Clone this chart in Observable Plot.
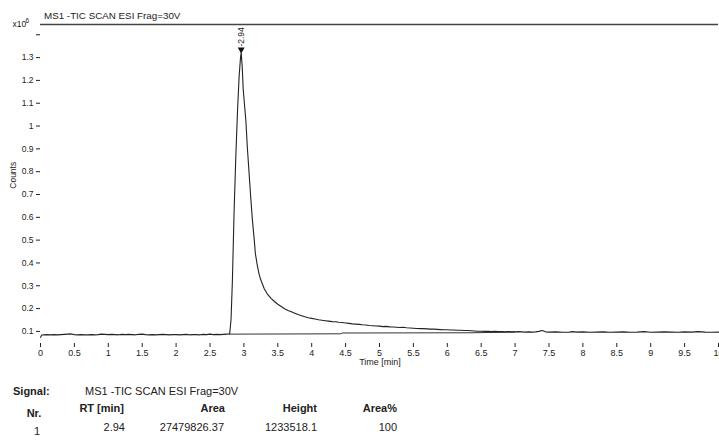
<!DOCTYPE html>
<html>
<head>
<meta charset="utf-8">
<script src="https://cdn.jsdelivr.net/npm/d3@7"></script>
<script src="https://cdn.jsdelivr.net/npm/@observablehq/plot@0.6"></script>
<style>
  body { margin: 0; background: #fff; }
  #wrap { position: relative; width: 719px; height: 441px; overflow: hidden; font-family: "Liberation Sans", Arial, sans-serif; color: #222; }
  .abs { position: absolute; white-space: nowrap; line-height: 12px; }
  .narrow { font-family: "Liberation Sans Narrow", "Liberation Sans", Arial, sans-serif; }
  .b { font-weight: bold; }
</style>
</head>
<body>
<div id="wrap"></div>
<script>
// ---- data (counts in units of 10^6) ----
const signalName = "MS1 -TIC SCAN ESI Frag=30V";
const xLabel = "Time [min]";
const yLabel = "Counts";
const times = [
  0.00,0.02,0.05,0.10,0.15,0.20,0.25,0.30,0.35,0.40,0.45,0.50,0.55,0.60,0.65,0.70,0.75,0.80,0.85,0.90,0.95,
  1.00,1.05,1.10,1.15,1.20,1.25,1.30,1.35,1.40,1.45,1.50,1.55,1.60,1.65,1.70,1.75,1.80,1.85,1.90,1.95,
  2.00,2.05,2.10,2.15,2.20,2.25,2.30,2.35,2.40,2.45,2.50,2.55,2.60,2.65,2.70,2.75,2.79,
  2.81,2.83,2.855,2.88,2.905,2.93,2.95,2.96,2.975,2.99,3.01,3.03,3.05,3.075,3.10,3.125,3.15,3.17,3.20,3.225,3.25,
  3.30,3.35,3.40,3.45,3.50,3.55,3.60,3.65,3.70,3.75,3.80,3.85,3.90,3.95,
  4.00,4.05,4.10,4.15,4.20,4.25,4.30,4.35,4.40,4.45,4.50,4.55,4.60,4.65,4.70,4.75,4.80,4.85,4.90,4.95,
  5.00,5.05,5.10,5.15,5.20,5.25,5.30,5.35,5.40,5.45,5.50,5.55,5.60,5.65,5.70,5.75,5.80,5.85,5.90,5.95,
  6.00,6.05,6.10,6.15,6.20,6.25,6.30,6.35,6.40,6.45,6.50,6.55,6.60,6.65,6.70,6.75,6.80,6.85,6.90,6.95,
  7.00,7.05,7.10,7.15,7.20,7.25,7.30,7.35,7.40,7.45,7.50,7.60,7.70,7.80,7.85,7.90,
  8.00,8.10,8.20,8.30,8.40,8.50,8.60,8.70,8.80,8.90,
  9.00,9.10,9.20,9.30,9.40,9.50,9.60,9.70,9.80,9.90,10.00
];
const counts = [
  0.074,0.084,0.085,0.086,0.085,0.086,0.085,0.086,0.087,0.088,0.089,0.086,0.085,0.086,0.085,0.085,0.086,0.085,0.086,0.088,0.087,
  0.086,0.087,0.086,0.085,0.087,0.086,0.087,0.086,0.085,0.087,0.088,0.086,0.085,0.086,0.085,0.086,0.087,0.086,0.085,0.086,
  0.086,0.085,0.086,0.087,0.085,0.086,0.086,0.085,0.087,0.086,0.088,0.086,0.087,0.086,0.087,0.088,0.089,
  0.15,0.32,0.62,0.86,1.06,1.22,1.30,1.322,1.26,1.16,1.09,1.02,0.91,0.80,0.69,0.59,0.51,0.44,0.385,0.35,0.325,
  0.287,0.262,0.245,0.231,0.219,0.209,0.199,0.192,0.186,0.180,0.174,0.169,0.164,0.160,
  0.157,0.154,0.151,0.149,0.147,0.145,0.143,0.142,0.140,0.139,0.137,0.135,0.133,0.132,0.131,0.129,0.128,0.126,0.125,0.124,
  0.123,0.121,0.122,0.120,0.119,0.118,0.117,0.118,0.116,0.115,0.114,0.113,0.112,0.112,0.111,0.110,0.110,0.109,0.108,0.107,
  0.107,0.106,0.106,0.105,0.105,0.104,0.104,0.103,0.102,0.101,0.101,0.100,0.100,0.099,0.100,0.099,0.099,0.098,0.099,0.098,
  0.098,0.099,0.098,0.097,0.098,0.097,0.098,0.100,0.104,0.098,0.097,0.098,0.096,0.097,0.099,0.097,
  0.098,0.096,0.097,0.098,0.096,0.097,0.098,0.096,0.097,0.099,
  0.096,0.097,0.098,0.097,0.096,0.098,0.097,0.099,0.097,0.096,0.097
];
// integration baseline of the peak
const baseTimes  = [2.79, 4.43, 4.45, 6.35, 7.00];
const baseCounts = [0.088, 0.0895, 0.093, 0.094, 0.097];
// peak annotation
const peakRT = 2.94;
const peakApexTime = 2.96;
const peakApexCount = 1.322;
// axes
const xDomain = [0, 10];
const yDomain = [0.047, 1.445];
const xTicks = [0,0.5,1,1.5,2,2.5,3,3.5,4,4.5,5,5.5,6,6.5,7,7.5,8,8.5,9,9.5,10];
const yTicks = [0.1,0.2,0.3,0.4,0.5,0.6,0.7,0.8,0.9,1,1.1,1.2,1.3];
const yExpTick = [1.4];
// table
const tableHeaders = ["Nr.", "RT [min]", "Area", "Height", "Area%"];
const tableRow = ["1", "2.94", "27479826.37", "1233518.1", "100"];

const trace = times.map((t, i) => ({t, c: counts[i]}));
const base = baseTimes.map((t, i) => ({t, c: baseCounts[i]}));
const peak = [{t: peakApexTime, c: peakApexCount, label: "-" + peakRT.toFixed(2)}];

const narrowFont = "'Liberation Sans Narrow','Liberation Sans',Arial,sans-serif";

const chart = Plot.plot({
  width: 719,
  height: 370,
  marginTop: 24,
  marginBottom: 27,
  marginLeft: 40,
  marginRight: 1,
  x: {domain: xDomain},
  y: {domain: yDomain},
  style: {fontFamily: narrowFont, fontSize: "8.5px", color: "#222", background: "white", overflow: "hidden"},
  marks: [
    Plot.ruleY([yDomain[1]], {stroke: "#444", strokeWidth: 1.6}),
    Plot.axisY({ticks: yTicks, tickFormat: d => String(d), tickSize: 4, tickPadding: 3, label: null, line: true, stroke: "#222"}),
    Plot.axisY({ticks: yExpTick, tickFormat: () => "", tickSize: 4, label: null}),
    Plot.axisX({ticks: xTicks, tickFormat: d => String(d), tickSize: 4, tickPadding: 2, label: null, line: true, fontSize: 9}),
    Plot.line(base, {x: "t", y: "c", stroke: "#333", strokeWidth: 1}),
    Plot.line(trace, {x: "t", y: "c", stroke: "#222", strokeWidth: 1.1}),
    Plot.dot(peak, {x: "t", y: "c", symbol: "triangle", rotate: 180, r: 2.6, fill: "#111", stroke: "none", dy: -3}),
    Plot.text(peak, {x: "t", y: "c", text: "label", rotate: -90, textAnchor: "start", dy: -6, fontSize: 8.5, fill: "#222"})
  ]
});

const wrap = document.getElementById("wrap");
chart.style.position = "absolute";
chart.style.left = "0px";
chart.style.top = "0px";
wrap.appendChild(chart);

function addText(txt, opts) {
  const el = document.createElement("div");
  el.className = "abs " + (opts.cls || "");
  el.textContent = txt;
  el.style.fontSize = opts.size + "px";
  el.style.lineHeight = opts.size + "px";
  el.style.top = (opts.baseline - opts.size * 0.9) + "px";
  if (opts.right != null) { el.style.left = (opts.right - 300) + "px"; el.style.width = "300px"; el.style.textAlign = "right"; }
  else if (opts.center != null) { el.style.left = (opts.center - 50) + "px"; el.style.width = "100px"; el.style.textAlign = "center"; }
  else el.style.left = opts.left + "px";
  wrap.appendChild(el);
  return el;
}

// title
addText(signalName, {left: 44, baseline: 20, size: 9.8});
// exponent label
addText("x10", {left: 12.5, baseline: 27.5, size: 8.5, cls: "narrow"});
addText("6", {left: 25.5, baseline: 24, size: 6.5, cls: "narrow"});
// axis labels
const cl = addText(yLabel, {center: 12.5, baseline: 179, size: 8.5, cls: "narrow"});
cl.style.transform = "rotate(-90deg)";
cl.style.transformOrigin = "50% 50%";
addText(xLabel, {center: 380, baseline: 366, size: 9});

// table
addText("Signal:", {left: 13, baseline: 396, size: 11, cls: "b"});
addText(signalName, {left: 85, baseline: 396, size: 11});
const headerPos = [{center: 34, baseline: 418}, {right: 124, baseline: 413}, {right: 225, baseline: 413}, {right: 317, baseline: 413}, {right: 397, baseline: 413}];
const rowPos = [{center: 37, baseline: 436}, {right: 125, baseline: 432}, {right: 224, baseline: 432}, {right: 317, baseline: 432}, {right: 397, baseline: 432}];
tableHeaders.forEach((h, i) => addText(h, Object.assign({size: 11, cls: "b"}, headerPos[i])));
tableRow.forEach((v, i) => addText(v, Object.assign({size: 11}, rowPos[i])));
</script>
</body>
</html>
